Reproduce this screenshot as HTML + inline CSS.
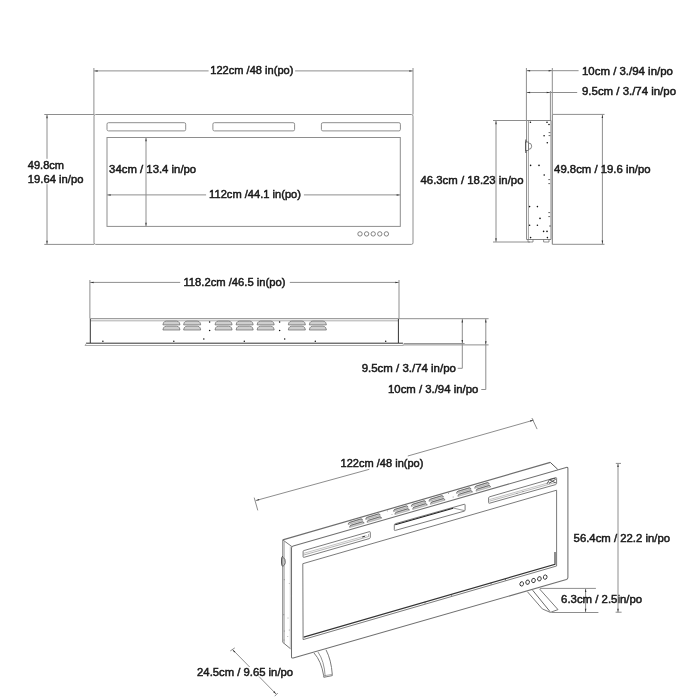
<!DOCTYPE html>
<html><head><meta charset="utf-8"><title>Dimensions</title>
<style>
html,body{margin:0;padding:0;background:#fff;}
body{width:700px;height:700px;overflow:hidden;}
svg{display:block;}
svg{filter:grayscale(1);}
text{font-family:"Liberation Sans",sans-serif;font-size:11.3px;fill:#1a1a1a;stroke:#1a1a1a;stroke-width:0.5px;}
</style></head><body>
<svg width="700" height="700" viewBox="0 0 700 700">
<rect width="700" height="700" fill="#fff"/>
<rect x="94" y="114.5" width="319" height="129.9" rx="1.6" fill="none" stroke="#8e8e8e" stroke-width="1.0"/>
<rect x="107" y="122.7" width="78.7" height="8.2" rx="1.5" fill="none" stroke="#8e8e8e" stroke-width="1.0"/>
<rect x="212.9" y="122.7" width="81.7" height="8.2" rx="1.5" fill="none" stroke="#8e8e8e" stroke-width="1.0"/>
<rect x="321.4" y="122.7" width="79.0" height="8.2" rx="1.5" fill="none" stroke="#8e8e8e" stroke-width="1.0"/>
<rect x="107" y="137.5" width="293.3" height="88.9" rx="0" fill="none" stroke="#8e8e8e" stroke-width="1.0"/>
<circle cx="360" cy="233.9" r="2.2" fill="none" stroke="#666" stroke-width="0.8"/>
<circle cx="366.6" cy="233.9" r="2.2" fill="none" stroke="#666" stroke-width="0.8"/>
<circle cx="373.2" cy="233.9" r="2.2" fill="none" stroke="#666" stroke-width="0.8"/>
<circle cx="379.8" cy="233.9" r="2.2" fill="none" stroke="#666" stroke-width="0.8"/>
<circle cx="386.4" cy="233.9" r="2.2" fill="none" stroke="#666" stroke-width="0.8"/>
<line x1="93.9" y1="68" x2="93.9" y2="114.5" stroke="#8e8e8e" stroke-width="1.0" />
<line x1="413" y1="68" x2="413" y2="114.5" stroke="#8e8e8e" stroke-width="1.0" />
<line x1="93.9" y1="70.9" x2="208.6" y2="70.9" stroke="#8e8e8e" stroke-width="1.0" />
<line x1="295.1" y1="70.9" x2="413" y2="70.9" stroke="#8e8e8e" stroke-width="1.0" />
<polygon points="94.40,70.90 97.60,70.15 97.60,71.65" fill="#333"/>
<polygon points="412.50,70.90 409.30,71.65 409.30,70.15" fill="#333"/>
<text x="210.3" y="73.9" textLength="83.1" lengthAdjust="spacingAndGlyphs">122cm /48 in(po)</text>
<line x1="44.3" y1="114.5" x2="94" y2="114.5" stroke="#8e8e8e" stroke-width="1.0" />
<line x1="44.3" y1="244.4" x2="94" y2="244.4" stroke="#8e8e8e" stroke-width="1.0" />
<line x1="47.0" y1="114.5" x2="47.0" y2="244.4" stroke="#8e8e8e" stroke-width="1.0" />
<polygon points="47.00,115.00 47.75,118.20 46.25,118.20" fill="#333"/>
<polygon points="47.00,243.90 46.25,240.70 47.75,240.70" fill="#333"/>
<rect x="26" y="158.8" width="60" height="25.4" fill="#fff"/>
<text x="27.8" y="169.3" textLength="36.2" lengthAdjust="spacingAndGlyphs">49.8cm</text>
<text x="27.8" y="182.7" textLength="55.6" lengthAdjust="spacingAndGlyphs">19.64 in/po</text>
<line x1="146" y1="137.5" x2="146" y2="226.4" stroke="#8e8e8e" stroke-width="1.0" />
<polygon points="146.00,138.00 146.75,141.20 145.25,141.20" fill="#333"/>
<polygon points="146.00,225.90 145.25,222.70 146.75,222.70" fill="#333"/>
<text x="109.1" y="173.2" textLength="87.1" lengthAdjust="spacingAndGlyphs">34cm / 13.4 in/po</text>
<line x1="107" y1="194.9" x2="206.1" y2="194.9" stroke="#8e8e8e" stroke-width="1.0" />
<line x1="303.9" y1="194.9" x2="400.3" y2="194.9" stroke="#8e8e8e" stroke-width="1.0" />
<polygon points="107.50,194.90 110.70,194.15 110.70,195.65" fill="#333"/>
<polygon points="399.80,194.90 396.60,195.65 396.60,194.15" fill="#333"/>
<text x="209.1" y="198.2" textLength="91.9" lengthAdjust="spacingAndGlyphs">112cm /44.1 in(po)</text>
<line x1="526.4" y1="68" x2="526.4" y2="120.5" stroke="#8e8e8e" stroke-width="1.0" />
<line x1="552.3" y1="68" x2="552.3" y2="114.4" stroke="#8e8e8e" stroke-width="1.0" />
<line x1="550.4" y1="91" x2="550.4" y2="120.5" stroke="#8e8e8e" stroke-width="1.0" />
<line x1="526.4" y1="70.7" x2="578.6" y2="70.7" stroke="#8e8e8e" stroke-width="1.0" />
<polygon points="526.90,70.70 530.10,69.95 530.10,71.45" fill="#333"/>
<polygon points="551.80,70.70 548.60,71.45 548.60,69.95" fill="#333"/>
<line x1="526.4" y1="92.5" x2="577.2" y2="92.5" stroke="#8e8e8e" stroke-width="1.0" />
<polygon points="526.90,92.60 530.10,91.85 530.10,93.35" fill="#333"/>
<polygon points="549.90,92.60 546.70,93.35 546.70,91.85" fill="#333"/>
<text x="582" y="74.7" textLength="90.9" lengthAdjust="spacingAndGlyphs">10cm / 3./94 in/po</text>
<text x="582" y="95.4" textLength="94" lengthAdjust="spacingAndGlyphs">9.5cm / 3./74 in/po</text>
<path d="M526.6 120.5 H551 V239.5 H526.6 Z" fill="none" stroke="#777" stroke-width="0.9" />
<line x1="528.5" y1="121" x2="528.5" y2="239.5" stroke="#888" stroke-width="0.7" />
<line x1="552.3" y1="114.4" x2="552.3" y2="244.3" stroke="#777" stroke-width="1.0" />
<path d="M528 239.5 V242 H533 V239.5 M543.6 239.5 V242 H549 V239.5" fill="none" stroke="#666" stroke-width="0.7" />
<path d="M528.5 143 A3 3 0 0 1 528.5 149.4" fill="none" stroke="#555" stroke-width="0.7" />
<rect x="525.6" y="142" width="3.0" height="8.4" rx="0" fill="#fff" stroke="#555" stroke-width="0.7"/>
<line x1="525.8" y1="139.5" x2="525.8" y2="153" stroke="#444" stroke-width="0.9" />
<circle cx="530.4" cy="122.3" r="0.8" fill="#111"/>
<circle cx="547" cy="122.3" r="0.8" fill="#111"/>
<circle cx="549" cy="124.5" r="0.8" fill="#111"/>
<circle cx="544.1" cy="135.8" r="0.8" fill="#111"/>
<circle cx="547.3" cy="142.8" r="0.8" fill="#111"/>
<circle cx="530.6" cy="165.4" r="0.8" fill="#111"/>
<circle cx="539" cy="165.4" r="0.8" fill="#111"/>
<circle cx="544.2" cy="175" r="0.8" fill="#111"/>
<circle cx="529.6" cy="206.6" r="0.8" fill="#111"/>
<circle cx="537.4" cy="206.6" r="0.8" fill="#111"/>
<circle cx="540" cy="218.4" r="0.8" fill="#111"/>
<circle cx="529.6" cy="225.2" r="0.8" fill="#111"/>
<circle cx="537.4" cy="225.2" r="0.8" fill="#111"/>
<circle cx="543.6" cy="231.4" r="0.8" fill="#111"/>
<circle cx="547" cy="231.4" r="0.8" fill="#111"/>
<circle cx="530.6" cy="237.6" r="0.8" fill="#111"/>
<circle cx="547.4" cy="237.6" r="0.8" fill="#111"/>
<line x1="548.6" y1="132.6" x2="550.4" y2="132.6" stroke="#444" stroke-width="0.8" />
<line x1="548.6" y1="135.6" x2="550.4" y2="135.6" stroke="#444" stroke-width="0.8" />
<line x1="548.3000000000001" y1="179.6" x2="550.1" y2="179.6" stroke="#444" stroke-width="0.8" />
<line x1="548.3000000000001" y1="183.6" x2="550.1" y2="183.6" stroke="#444" stroke-width="0.8" />
<line x1="548.3000000000001" y1="212.6" x2="550.1" y2="212.6" stroke="#444" stroke-width="0.8" />
<line x1="548.3000000000001" y1="216.6" x2="550.1" y2="216.6" stroke="#444" stroke-width="0.8" />
<line x1="549.1" y1="226" x2="550.9" y2="226" stroke="#444" stroke-width="0.8" />
<line x1="493" y1="120.5" x2="527" y2="120.5" stroke="#8e8e8e" stroke-width="1.0" />
<line x1="493" y1="242" x2="530" y2="242" stroke="#8e8e8e" stroke-width="1.0" />
<line x1="496" y1="120.5" x2="496" y2="242" stroke="#8e8e8e" stroke-width="1.0" />
<polygon points="496.00,121.00 496.75,124.20 495.25,124.20" fill="#333"/>
<polygon points="496.00,241.50 495.25,238.30 496.75,238.30" fill="#333"/>
<text x="420.5" y="184.4" textLength="103" lengthAdjust="spacingAndGlyphs">46.3cm / 18.23 in/po</text>
<line x1="552.3" y1="114.4" x2="604.5" y2="114.4" stroke="#8e8e8e" stroke-width="1.0" />
<line x1="552.3" y1="244.3" x2="604.5" y2="244.3" stroke="#8e8e8e" stroke-width="1.0" />
<line x1="602.4" y1="114.4" x2="602.4" y2="244.3" stroke="#8e8e8e" stroke-width="1.0" />
<polygon points="602.40,114.90 603.15,118.10 601.65,118.10" fill="#333"/>
<polygon points="602.40,243.80 601.65,240.60 603.15,240.60" fill="#333"/>
<text x="554.1" y="173.2" textLength="96.5" lengthAdjust="spacingAndGlyphs">49.8cm / 19.6 in/po</text>
<line x1="89.9" y1="280" x2="89.9" y2="318.6" stroke="#8e8e8e" stroke-width="1.0" />
<line x1="399" y1="280" x2="399" y2="318.6" stroke="#8e8e8e" stroke-width="1.0" />
<line x1="89.9" y1="282.4" x2="180.2" y2="282.4" stroke="#8e8e8e" stroke-width="1.0" />
<line x1="289.8" y1="282.4" x2="399" y2="282.4" stroke="#8e8e8e" stroke-width="1.0" />
<polygon points="90.40,282.40 93.60,281.65 93.60,283.15" fill="#333"/>
<polygon points="398.50,282.40 395.30,283.15 395.30,281.65" fill="#333"/>
<text x="183.4" y="285.7" textLength="102.1" lengthAdjust="spacingAndGlyphs">118.2cm /46.5 in(po)</text>
<line x1="89.9" y1="318.7" x2="399" y2="318.7" stroke="#888" stroke-width="1.0" />
<line x1="90.3" y1="320.8" x2="398.5" y2="320.8" stroke="#999" stroke-width="0.8" />
<line x1="90.3" y1="319" x2="90.3" y2="343" stroke="#333" stroke-width="1.0" />
<line x1="398.4" y1="319" x2="398.4" y2="343" stroke="#333" stroke-width="1.0" />
<line x1="86" y1="343.2" x2="403" y2="343.2" stroke="#333" stroke-width="1.0" />
<path d="M86.5 343.2 L85 345.5 H403.5 L403 343.2" fill="none" stroke="#999" stroke-width="0.8" />
<path d="M162.9 324.90000000000003 L163.5 322.70000000000005 Q164.4 321.1 166.4 321.1 H176.5 Q178.5 321.1 179.4 322.70000000000005 L180.0 324.90000000000003 Z" fill="#cfcfcf" stroke="#666" stroke-width="0.7" />
<path d="M162.9 330.0 L163.5 327.8 Q164.4 326.2 166.4 326.2 H176.5 Q178.5 326.2 179.4 327.8 L180.0 330.0 Z" fill="#cfcfcf" stroke="#666" stroke-width="0.7" />
<path d="M183.6 324.90000000000003 L184.2 322.70000000000005 Q185.1 321.1 187.1 321.1 H197.2 Q199.2 321.1 200.1 322.70000000000005 L200.7 324.90000000000003 Z" fill="#cfcfcf" stroke="#666" stroke-width="0.7" />
<path d="M183.6 330.0 L184.2 327.8 Q185.1 326.2 187.1 326.2 H197.2 Q199.2 326.2 200.1 327.8 L200.7 330.0 Z" fill="#cfcfcf" stroke="#666" stroke-width="0.7" />
<path d="M215 324.90000000000003 L215.6 322.70000000000005 Q216.5 321.1 218.5 321.1 H228.6 Q230.6 321.1 231.5 322.70000000000005 L232.1 324.90000000000003 Z" fill="#cfcfcf" stroke="#666" stroke-width="0.7" />
<path d="M215 330.0 L215.6 327.8 Q216.5 326.2 218.5 326.2 H228.6 Q230.6 326.2 231.5 327.8 L232.1 330.0 Z" fill="#cfcfcf" stroke="#666" stroke-width="0.7" />
<path d="M236.1 324.90000000000003 L236.7 322.70000000000005 Q237.6 321.1 239.6 321.1 H249.7 Q251.7 321.1 252.6 322.70000000000005 L253.2 324.90000000000003 Z" fill="#cfcfcf" stroke="#666" stroke-width="0.7" />
<path d="M236.1 330.0 L236.7 327.8 Q237.6 326.2 239.6 326.2 H249.7 Q251.7 326.2 252.6 327.8 L253.2 330.0 Z" fill="#cfcfcf" stroke="#666" stroke-width="0.7" />
<path d="M257.1 324.90000000000003 L257.70000000000005 322.70000000000005 Q258.6 321.1 260.6 321.1 H270.70000000000005 Q272.70000000000005 321.1 273.6 322.70000000000005 L274.20000000000005 324.90000000000003 Z" fill="#cfcfcf" stroke="#666" stroke-width="0.7" />
<path d="M257.1 330.0 L257.70000000000005 327.8 Q258.6 326.2 260.6 326.2 H270.70000000000005 Q272.70000000000005 326.2 273.6 327.8 L274.20000000000005 330.0 Z" fill="#cfcfcf" stroke="#666" stroke-width="0.7" />
<path d="M288.3 324.90000000000003 L288.90000000000003 322.70000000000005 Q289.8 321.1 291.8 321.1 H301.90000000000003 Q303.90000000000003 321.1 304.8 322.70000000000005 L305.40000000000003 324.90000000000003 Z" fill="#cfcfcf" stroke="#666" stroke-width="0.7" />
<path d="M288.3 330.0 L288.90000000000003 327.8 Q289.8 326.2 291.8 326.2 H301.90000000000003 Q303.90000000000003 326.2 304.8 327.8 L305.40000000000003 330.0 Z" fill="#cfcfcf" stroke="#666" stroke-width="0.7" />
<path d="M309.3 324.90000000000003 L309.90000000000003 322.70000000000005 Q310.8 321.1 312.8 321.1 H322.90000000000003 Q324.90000000000003 321.1 325.8 322.70000000000005 L326.40000000000003 324.90000000000003 Z" fill="#cfcfcf" stroke="#666" stroke-width="0.7" />
<path d="M309.3 330.0 L309.90000000000003 327.8 Q310.8 326.2 312.8 326.2 H322.90000000000003 Q324.90000000000003 326.2 325.8 327.8 L326.40000000000003 330.0 Z" fill="#cfcfcf" stroke="#666" stroke-width="0.7" />
<circle cx="102.9" cy="341.3" r="0.75" fill="#111"/>
<circle cx="173.8" cy="341.3" r="0.75" fill="#111"/>
<circle cx="203.8" cy="339.1" r="0.75" fill="#111"/>
<circle cx="244.3" cy="341.3" r="0.75" fill="#111"/>
<circle cx="209.6" cy="321.9" r="0.75" fill="#111"/>
<circle cx="209.6" cy="330.6" r="0.75" fill="#111"/>
<circle cx="279.6" cy="321.9" r="0.75" fill="#111"/>
<circle cx="279.6" cy="330.6" r="0.75" fill="#111"/>
<circle cx="284.7" cy="339.1" r="0.75" fill="#111"/>
<circle cx="315.3" cy="341.3" r="0.75" fill="#111"/>
<circle cx="385.7" cy="341.3" r="0.75" fill="#111"/>
<line x1="399" y1="318.7" x2="488.6" y2="318.7" stroke="#8e8e8e" stroke-width="1.0" />
<line x1="404" y1="343.6" x2="464.6" y2="343.6" stroke="#8e8e8e" stroke-width="1.0" />
<line x1="404" y1="344.9" x2="488.6" y2="344.9" stroke="#8e8e8e" stroke-width="1.0" />
<path d="M462.3 318.7 V368.3 H457.7" fill="none" stroke="#8e8e8e" stroke-width="1.0" />
<path d="M485.8 318.7 V389.5 H481.3" fill="none" stroke="#8e8e8e" stroke-width="1.0" />
<polygon points="462.30,319.20 463.05,322.40 461.55,322.40" fill="#333"/>
<polygon points="462.30,343.20 461.55,340.00 463.05,340.00" fill="#333"/>
<polygon points="485.80,319.20 486.55,322.40 485.05,322.40" fill="#333"/>
<polygon points="485.80,344.50 485.05,341.30 486.55,341.30" fill="#333"/>
<text x="361.7" y="372.0" textLength="94.2" lengthAdjust="spacingAndGlyphs">9.5cm / 3./74 in/po</text>
<text x="388" y="393.4" textLength="90.3" lengthAdjust="spacingAndGlyphs">10cm / 3./94 in/po</text>
<line x1="255.6" y1="500.6" x2="369.3" y2="469.3" stroke="#8e8e8e" stroke-width="1.0" />
<line x1="407.8" y1="456.0" x2="533.7" y2="420.1" stroke="#8e8e8e" stroke-width="1.0" />
<line x1="254.2" y1="497.6" x2="257.8" y2="510.4" stroke="#8e8e8e" stroke-width="1.0" />
<line x1="531.9" y1="418" x2="537.1" y2="429.1" stroke="#8e8e8e" stroke-width="1.0" />
<polygon points="256.00,500.50 258.88,498.91 259.28,500.36" fill="#333"/>
<polygon points="533.30,420.20 530.43,421.81 530.02,420.37" fill="#333"/>
<text x="340.6" y="467.4" textLength="82.8" lengthAdjust="spacingAndGlyphs">122cm /48 in(po)</text>
<path d="M293.2 546.1 L566.2 467.4 Q567.9 466.9 567.9 468.6 V577.6 Q567.9 579.1 566.4 579.6 L293.2 657.9 Q291.5 658.4 291.5 656.7 V548 Q291.5 546.6 293.2 546.1 Z" fill="none" stroke="#707070" stroke-width="1.05" />
<path d="M302.8 563.7 L556.6 490.2 V566 L303.1 639.6 Z" fill="none" stroke="#747474" stroke-width="0.95" />
<path d="M303.7 637.1 L555 564.3 V552" fill="none" stroke="#333" stroke-width="1.1" />
<line x1="425" y1="601.7601671309192" x2="425" y2="603.5601671309192" stroke="#444" stroke-width="0.7" />
<line x1="451.6" y1="594.0543175487464" x2="451.6" y2="595.8543175487465" stroke="#444" stroke-width="0.7" />
<line x1="491" y1="582.6403899721448" x2="491" y2="584.4403899721449" stroke="#444" stroke-width="0.7" />
<line x1="505.4" y1="578.4688022284122" x2="505.4" y2="580.2688022284123" stroke="#444" stroke-width="0.7" />
<path d="M303.1 551.6 Q303.1 550.6 304.1 550.5 L369.3 531.7 Q370.3 531.4 370.3 532.4 V537.4 Q370.3 538.2 369.3 538.6 L304.1 557.3 Q303.1 557.6 303.1 556.6 Z" fill="none" stroke="#747474" stroke-width="0.95" />
<path d="M303.8 553.3 L366.5 535.5" fill="none" stroke="#999" stroke-width="0.6" />
<path d="M303.8 555.0 L368.5 536.6 V534" fill="none" stroke="#808080" stroke-width="0.6" />
<line x1="362.3" y1="537.0" x2="364.8" y2="536.3" stroke="#222" stroke-width="1.0" />
<path d="M394.3 525 Q394.3 524 395.3 523.7 L464.1 504.3 Q465.1 504 465.1 505 V510 Q465.1 510.8 464.1 511.2 L395.3 530.4 Q394.3 530.7 394.3 529.7 Z" fill="none" stroke="#747474" stroke-width="0.95" />
<path d="M395.2 524.8 L453.1 508.3" fill="none" stroke="#222" stroke-width="1.1" />
<path d="M453.1 508.0 L464.4 510.6" fill="none" stroke="#555" stroke-width="0.6" />
<path d="M488.6 498 Q488.6 497.1 489.6 496.8 L555.6 477.7 Q556.6 477.4 556.6 478.4 V483.4 Q556.6 484.2 555.6 484.6 L489.6 503.2 Q488.6 503.5 488.6 502.5 Z" fill="none" stroke="#747474" stroke-width="0.95" />
<path d="M489.4 499.6 L551 482.1" fill="none" stroke="#999" stroke-width="0.6" />
<path d="M489.4 501.2 L556 482.3" fill="none" stroke="#888" stroke-width="0.6" />
<path d="M547 483.8 L549.5 479.6 L555.5 478.2 M549 483.4 L555.8 479.2 M550 480 L555.8 483" fill="none" stroke="#333" stroke-width="0.8" />
<circle cx="517" cy="493.2" r="0.45" fill="#444"/>
<circle cx="523" cy="491.5" r="0.45" fill="#444"/>
<path d="M282.8 539.9 L550.3 462.4" fill="none" stroke="#6e6e6e" stroke-width="1.2" />
<path d="M550.3 462.4 L557.7 469.3" fill="none" stroke="#444" stroke-width="0.9" />
<path d="M282.8 539.9 L291.9 546.6" fill="none" stroke="#747474" stroke-width="0.95" />
<path d="M282.8 540 V642.4 L290.6 648.8" fill="none" stroke="#747474" stroke-width="1.0" />
<line x1="284.2" y1="541.5" x2="284.2" y2="643.4" stroke="#888" stroke-width="0.7" />
<line x1="290.3" y1="546.4" x2="290.3" y2="648.6" stroke="#aaa" stroke-width="0.7" />
<path d="M282.8 556 Q281.3 557 281.5 560 V563 Q281.5 565.8 283 566.6" fill="none" stroke="#444" stroke-width="0.9" />
<path d="M283.2 557.4 Q285.6 559 285.3 562.5 Q285 565 283.4 565.6" fill="none" stroke="#444" stroke-width="0.8" />
<circle cx="284.2" cy="579.8" r="0.45" fill="#555"/>
<circle cx="289.2" cy="583.6" r="0.45" fill="#555"/>
<circle cx="283.8" cy="614.8" r="0.45" fill="#555"/>
<circle cx="288" cy="618" r="0.45" fill="#555"/>
<circle cx="289.2" cy="630" r="0.45" fill="#555"/>
<circle cx="284.2" cy="631" r="0.45" fill="#555"/>
<circle cx="287.8" cy="636.4" r="0.45" fill="#555"/>
<circle cx="284" cy="640" r="0.45" fill="#555"/>
<path d="M348.1 524.7 Q348.4 522.7 349.8 522.3 L361.0 518.9 Q362.4 519.1 362.8 520.5 Z" fill="#cdcdcd" stroke="#8a8a8a" stroke-width="0.5" />
<path d="M348.3 523.7 Q348.6 522.6 349.8 522.3 L361.0 518.9 Q362.3 519.0 362.6 519.9" fill="none" stroke="#4a4a4a" stroke-width="0.7" />
<path d="M349.5 527.6 Q349.8 525.6 351.2 525.2 L362.4 521.8 Q363.8 522.0 364.2 523.4 Z" fill="#cdcdcd" stroke="#8a8a8a" stroke-width="0.5" />
<path d="M349.7 526.6 Q350.0 525.5 351.2 525.2 L362.4 521.8 Q363.7 521.9 364.0 522.8" fill="none" stroke="#4a4a4a" stroke-width="0.7" />
<path d="M365.6 519.7 Q365.9 517.7 367.3 517.3 L378.5 513.9 Q379.9 514.1 380.3 515.5 Z" fill="#cdcdcd" stroke="#8a8a8a" stroke-width="0.5" />
<path d="M365.8 518.7 Q366.1 517.6 367.3 517.3 L378.5 513.9 Q379.8 514.0 380.1 514.9" fill="none" stroke="#4a4a4a" stroke-width="0.7" />
<path d="M367.0 522.6 Q367.3 520.6 368.7 520.2 L379.9 516.8 Q381.3 517.0 381.7 518.4 Z" fill="#cdcdcd" stroke="#8a8a8a" stroke-width="0.5" />
<path d="M367.2 521.6 Q367.5 520.5 368.7 520.2 L379.9 516.8 Q381.2 516.9 381.5 517.8" fill="none" stroke="#4a4a4a" stroke-width="0.7" />
<path d="M393.4 511.7 Q393.7 509.7 395.1 509.3 L406.3 505.9 Q407.7 506.1 408.1 507.5 Z" fill="#cdcdcd" stroke="#8a8a8a" stroke-width="0.5" />
<path d="M393.6 510.7 Q393.9 509.6 395.1 509.3 L406.3 505.9 Q407.6 506.0 407.9 506.9" fill="none" stroke="#4a4a4a" stroke-width="0.7" />
<path d="M394.8 514.6 Q395.1 512.6 396.5 512.2 L407.7 508.8 Q409.1 509.0 409.5 510.4 Z" fill="#cdcdcd" stroke="#8a8a8a" stroke-width="0.5" />
<path d="M395.0 513.6 Q395.3 512.5 396.5 512.2 L407.7 508.8 Q409.0 508.9 409.3 509.8" fill="none" stroke="#4a4a4a" stroke-width="0.7" />
<path d="M411.2 506.6 Q411.5 504.6 412.9 504.2 L424.1 500.8 Q425.5 501.0 425.9 502.4 Z" fill="#cdcdcd" stroke="#8a8a8a" stroke-width="0.5" />
<path d="M411.4 505.6 Q411.7 504.5 412.9 504.2 L424.1 500.8 Q425.4 500.9 425.7 501.8" fill="none" stroke="#4a4a4a" stroke-width="0.7" />
<path d="M412.6 509.5 Q412.9 507.5 414.3 507.1 L425.5 503.7 Q426.9 503.9 427.3 505.3 Z" fill="#cdcdcd" stroke="#8a8a8a" stroke-width="0.5" />
<path d="M412.8 508.5 Q413.1 507.4 414.3 507.1 L425.5 503.7 Q426.8 503.8 427.1 504.7" fill="none" stroke="#4a4a4a" stroke-width="0.7" />
<path d="M428.9 501.5 Q429.2 499.5 430.6 499.1 L441.8 495.7 Q443.2 495.9 443.6 497.3 Z" fill="#cdcdcd" stroke="#8a8a8a" stroke-width="0.5" />
<path d="M429.1 500.5 Q429.4 499.4 430.6 499.1 L441.8 495.7 Q443.1 495.8 443.4 496.7" fill="none" stroke="#4a4a4a" stroke-width="0.7" />
<path d="M430.3 504.4 Q430.6 502.4 432.0 502.0 L443.2 498.6 Q444.6 498.8 445.0 500.2 Z" fill="#cdcdcd" stroke="#8a8a8a" stroke-width="0.5" />
<path d="M430.5 503.4 Q430.8 502.3 432.0 502.0 L443.2 498.6 Q444.5 498.7 444.8 499.6" fill="none" stroke="#4a4a4a" stroke-width="0.7" />
<path d="M456.4 493.6 Q456.7 491.6 458.1 491.2 L469.3 487.8 Q470.7 488.0 471.1 489.4 Z" fill="#cdcdcd" stroke="#8a8a8a" stroke-width="0.5" />
<path d="M456.6 492.6 Q456.9 491.5 458.1 491.2 L469.3 487.8 Q470.6 487.9 470.9 488.8" fill="none" stroke="#4a4a4a" stroke-width="0.7" />
<path d="M457.8 496.5 Q458.1 494.5 459.5 494.1 L470.7 490.7 Q472.1 490.9 472.5 492.3 Z" fill="#cdcdcd" stroke="#8a8a8a" stroke-width="0.5" />
<path d="M458.0 495.5 Q458.3 494.4 459.5 494.1 L470.7 490.7 Q472.0 490.8 472.3 491.7" fill="none" stroke="#4a4a4a" stroke-width="0.7" />
<path d="M474.6 488.4 Q474.9 486.4 476.3 486.0 L487.5 482.6 Q488.9 482.8 489.3 484.2 Z" fill="#cdcdcd" stroke="#8a8a8a" stroke-width="0.5" />
<path d="M474.8 487.4 Q475.1 486.3 476.3 486.0 L487.5 482.6 Q488.8 482.7 489.1 483.6" fill="none" stroke="#4a4a4a" stroke-width="0.7" />
<path d="M476.0 491.3 Q476.3 489.3 477.7 488.9 L488.9 485.5 Q490.3 485.7 490.7 487.1 Z" fill="#cdcdcd" stroke="#8a8a8a" stroke-width="0.5" />
<path d="M476.2 490.3 Q476.5 489.2 477.7 488.9 L488.9 485.5 Q490.2 485.6 490.5 486.5" fill="none" stroke="#4a4a4a" stroke-width="0.7" />
<circle cx="387.4" cy="510.9" r="0.45" fill="#444"/>
<circle cx="392" cy="514.6" r="0.45" fill="#444"/>
<circle cx="448.6" cy="493.2" r="0.45" fill="#444"/>
<circle cx="453.1" cy="497.0" r="0.45" fill="#444"/>
<ellipse cx="521.7" cy="583.9" rx="1.8" ry="2.2" fill="none" stroke="#333" stroke-width="0.9" transform="rotate(15 521.7 583.9)"/>
<ellipse cx="527.6" cy="582.2" rx="1.8" ry="2.2" fill="none" stroke="#333" stroke-width="0.9" transform="rotate(15 527.6 582.2)"/>
<ellipse cx="533.5" cy="580.5" rx="1.8" ry="2.2" fill="none" stroke="#333" stroke-width="0.9" transform="rotate(15 533.5 580.5)"/>
<ellipse cx="539.4" cy="578.8" rx="1.8" ry="2.2" fill="none" stroke="#333" stroke-width="0.9" transform="rotate(15 539.4 578.8)"/>
<ellipse cx="545.2" cy="577.1" rx="1.8" ry="2.2" fill="none" stroke="#333" stroke-width="0.9" transform="rotate(15 545.2 577.1)"/>
<path d="M314 653 Q321.3 661 323.7 675.8 L323.8 677.3 L332.3 675.6 L332.3 674.6 Q331.3 660 326 649.8" fill="none" stroke="#747474" stroke-width="0.95" />
<path d="M318 652 Q324.3 661 325.2 676.4" fill="none" stroke="#666" stroke-width="0.7" />
<path d="M323.7 675.9 L332.3 674.3" fill="none" stroke="#777" stroke-width="0.6" />
<path d="M527.4 591.7 L542.3 608.9 L550.3 612.4 L558 609.6 L539.4 588.8" fill="none" stroke="#747474" stroke-width="0.95" />
<path d="M532.6 590.2 L550 611.6" fill="none" stroke="#444" stroke-width="0.8" />
<line x1="540" y1="588.4" x2="595.9" y2="588.4" stroke="#8e8e8e" stroke-width="1.0" />
<line x1="551.4" y1="612.5" x2="598.4" y2="612.5" stroke="#8e8e8e" stroke-width="1.0" />
<line x1="615.6" y1="612.2" x2="621.6" y2="612.2" stroke="#8e8e8e" stroke-width="1.0" />
<line x1="585.6" y1="588.4" x2="585.6" y2="612.5" stroke="#8e8e8e" stroke-width="1.0" />
<polygon points="585.60,588.90 586.35,592.10 584.85,592.10" fill="#333"/>
<polygon points="585.60,612.00 584.85,608.80 586.35,608.80" fill="#333"/>
<text x="561.1" y="603.0" textLength="81" lengthAdjust="spacingAndGlyphs">6.3cm / 2.5in/po</text>
<line x1="618" y1="463.4" x2="618" y2="612.5" stroke="#8e8e8e" stroke-width="1.0" />
<line x1="615.8" y1="463.4" x2="621" y2="463.4" stroke="#8e8e8e" stroke-width="1.0" />
<polygon points="618.00,463.90 618.75,467.10 617.25,467.10" fill="#333"/>
<polygon points="618.00,612.00 617.25,608.80 618.75,608.80" fill="#333"/>
<text x="573.6" y="542.0" textLength="96.4" lengthAdjust="spacingAndGlyphs">56.4cm / 22.2 in/po</text>
<line x1="232.3" y1="649.3" x2="276.4" y2="694.3" stroke="#8e8e8e" stroke-width="1.0" />
<line x1="230.3" y1="650.9" x2="234.8" y2="647.9" stroke="#8e8e8e" stroke-width="1.0" />
<line x1="274.7" y1="696.2" x2="277.8" y2="693.0" stroke="#8e8e8e" stroke-width="1.0" />
<polygon points="232.50,649.70 235.29,651.43 234.23,652.49" fill="#333"/>
<polygon points="276.00,693.90 273.22,692.14 274.30,691.09" fill="#333"/>
<rect x="196" y="667" width="99" height="9.5" fill="#fff"/>
<text x="197.1" y="675.9" textLength="96" lengthAdjust="spacingAndGlyphs">24.5cm / 9.65 in/po</text>
</svg>
</body></html>
